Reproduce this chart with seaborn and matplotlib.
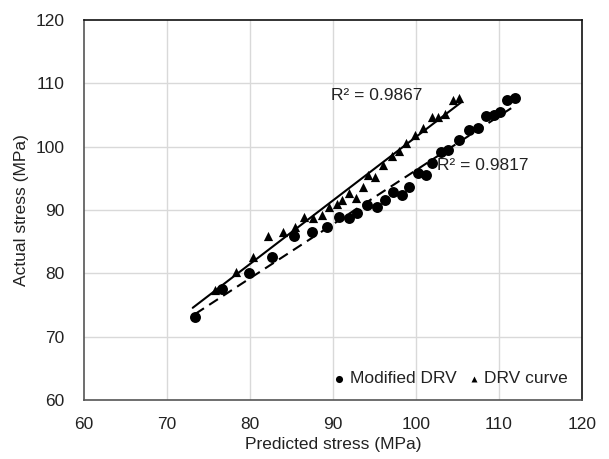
import numpy as np
import pandas as pd
import matplotlib
matplotlib.use("Agg")
import matplotlib.pyplot as plt
import seaborn as sns

# Modified DRV (circles)
mod_pred = [73.4, 76.6, 79.9, 82.7, 85.3, 87.5, 89.3, 90.7, 91.9, 92.9, 94.1, 95.3, 96.3, 97.2,
            98.3, 99.2, 100.2, 101.2, 101.9, 103.0, 103.9, 105.2, 106.4, 107.5, 108.4, 109.4,
            110.1, 111.0, 111.9]
mod_act = [73.1, 77.5, 80.0, 82.6, 85.9, 86.5, 87.3, 88.9, 88.7, 89.5, 90.8, 90.5, 91.6, 92.8,
           92.4, 93.6, 95.8, 95.5, 97.4, 99.2, 99.5, 101.1, 102.6, 102.9, 104.8, 105.0,
           105.5, 107.4, 107.7]
# DRV curve (triangles)
drv_pred = [75.8, 78.3, 80.4, 82.2, 84.0, 85.4, 86.5, 87.6, 88.7, 89.5, 90.5, 91.1, 91.9, 92.8,
            93.6, 94.2, 95.1, 96.0, 97.1, 98.0, 98.8, 99.9, 100.8, 101.9, 102.7, 103.5,
            104.5, 105.2]
drv_act = [77.4, 80.2, 82.6, 85.9, 86.5, 87.3, 88.9, 88.7, 89.2, 90.5, 90.9, 91.6, 92.7, 91.9,
           93.6, 95.5, 95.2, 97.1, 98.5, 99.3, 100.6, 101.8, 102.9, 104.7, 104.7, 105.2,
           107.4, 107.7]
r2_labels = ["R\u00b2 = 0.9867", "R\u00b2 = 0.9817"]
ticks = [60, 70, 80, 90, 100, 110, 120]

sns.set_theme(style="white")
plt.rcParams['font.family'] = ['Liberation Sans', 'DejaVu Sans']

fig = plt.figure(figsize=(6.09, 4.59), dpi=100)
ax = fig.add_axes([84/609, 1 - 400/459, (582-84)/609, (400-20)/459])

for t in ticks[1:-1]:
    ax.axhline(t, color="#d9d9d9", lw=1, zorder=0)
    ax.axvline(t, color="#d9d9d9", lw=1, zorder=0)

df_mod = pd.DataFrame({"pred": mod_pred, "act": mod_act})
df_drv = pd.DataFrame({"pred": drv_pred, "act": drv_act})

sns.scatterplot(data=df_mod, x="pred", y="act", ax=ax, marker="o", color="black", s=62,
                edgecolor="black", linewidth=0, label="Modified DRV", zorder=3)
sns.scatterplot(data=df_drv, x="pred", y="act", ax=ax, marker="^", color="black", s=44,
                edgecolor="black", linewidth=0, label="DRV curve", zorder=3)

# trendlines
cm = np.polyfit(mod_pred, mod_act, 1)
xm = np.array([min(mod_pred), max(mod_pred)])
ax.plot(xm, np.polyval(cm, xm), color="black", lw=1.5, ls=(0, (5, 3)), zorder=2)
cd = np.polyfit(drv_pred, drv_act, 1)
xd = np.array([min(mod_pred) - 0.3, max(drv_pred) + 0.3])
ax.plot(xd, np.polyval(cd, xd), color="black", lw=1.5, zorder=2)

ax.text(89.7, 108.1, r2_labels[0], fontsize=12.5, color="#222222", va="center", ha="left")
ax.text(102.5, 97.1, r2_labels[1], fontsize=12.5, color="#222222", va="center", ha="left")

ax.set_xlim(60, 120)
ax.set_ylim(60, 120)
ax.set_xticks(ticks)
ax.set_yticks(ticks)
ax.tick_params(axis="x", labelsize=12.5, colors="#222222", length=0, pad=12)
ax.tick_params(axis="y", labelsize=12.5, colors="#222222", length=0, pad=14)
ax.set_xlabel("Predicted stress (MPa)", fontsize=12.5, color="#222222", labelpad=4)
ax.set_ylabel("Actual stress (MPa)", fontsize=12.5, color="#222222", labelpad=5)
for name, sp in ax.spines.items():
    sp.set_linewidth(1.2)
    sp.set_color("#555555" if name in ("left", "bottom") else "#111111")

leg = ax.legend(loc="lower right", ncol=2, frameon=False, fontsize=12.5, handletextpad=0.1,
                columnspacing=0.5, markerscale=0.65, borderaxespad=0.4, handlelength=1.0)
for t in leg.get_texts():
    t.set_color("#222222")

fig.savefig("out.png", dpi=100)
